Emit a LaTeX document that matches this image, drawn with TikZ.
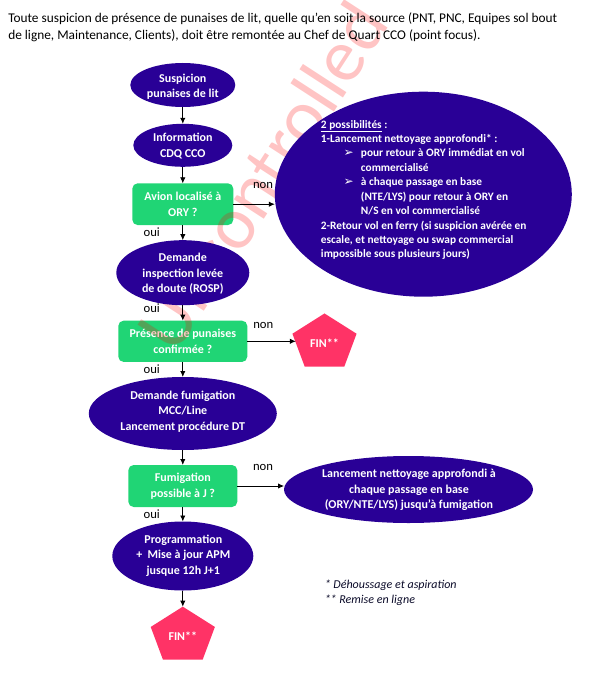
\documentclass[tikz,border=0pt]{standalone}
\usepackage{fontspec}
\setmainfont{Carlito}
\newfontfamily\dejavu{DejaVu Sans}
\usetikzlibrary{shapes.geometric,arrows.meta}
\definecolor{navyc}{RGB}{41,0,150}
\definecolor{greenc}{RGB}{32,213,117}
\definecolor{pinkc}{RGB}{255,51,102}
\definecolor{footc}{RGB}{10,10,40}
\begin{document}
\begin{tikzpicture}[x=0.75pt,y=-0.75pt,
  ell/.style={ellipse, fill=navyc, draw=none, inner sep=0pt, outer sep=0pt},
  gbox/.style={rectangle, rounded corners=4pt, fill=greenc, draw=none, inner sep=0pt, outer sep=0pt,
    text=white, font=\bfseries\fontsize{9}{11.6}\selectfont, align=center},
  ntxt/.style={text=white, font=\bfseries\fontsize{9}{11.6}\selectfont, align=center, inner sep=0pt},
  bigtxt/.style={text=white, font=\bfseries\fontsize{8.5}{10.83}\selectfont, align=left, inner sep=0pt},
  finshape/.style={regular polygon, regular polygon sides=5, minimum size=44pt, fill=pinkc, draw=none, inner sep=0pt, outer sep=0pt},
  lbl/.style={font=\fontsize{9.5}{11}\selectfont, inner sep=0pt, text=black},
  foot/.style={font=\itshape\fontsize{9}{11}\selectfont, inner sep=0pt, text=footc, anchor=west},
  hdr/.style={font=\fontsize{10}{12}\selectfont, inner sep=0pt, text=black, anchor=base west},
  arr/.style={-{Latex[length=4.5pt,width=4pt]}, line width=0.6pt, black},
  wmark/.style={text=red, opacity=0.23, font=\fontsize{56}{56}\selectfont, inner sep=0pt}
]
\path[use as bounding box] (0,0) rectangle (590,677);

% green decision boxes
\node[gbox, minimum width=75.75pt, minimum height=31.3pt] (avion) at (182.8,204.2) {Avion localisé à\\ORY ?};
\node[gbox, minimum width=96.75pt, minimum height=31pt] (pres) at (182.8,341.3) {Présence de punaises\\confirmée ?};
\node[gbox, minimum width=81.75pt, minimum height=31.5pt] (fumb) at (182.8,486) {Fumigation\\possible à J ?};

% watermark
\node[wmark, rotate=57] (wm) at (262,176) {Uncontrolled};

% header
\node[hdr] (h1) at (8,23) {Toute suspicion de présence de punaises de lit, quelle qu'en soit la source (PNT, PNC, Equipes sol bout};
\node[hdr] (h2) at (8,40) {de ligne, Maintenance, Clients), doit être remontée au Chef de Quart CCO (point focus).};

% ellipses
\node[ell, minimum width=78.75pt, minimum height=33pt] (susp) at (182.8,85) {};
\node[ntxt] (t-susp) at (182.8,86.7) {Suspicion\\punaises de lit};
\node[ell, minimum width=74.25pt, minimum height=32.25pt] (info) at (182.8,145.3) {};
\node[ntxt] (t-info) at (182.8,146.2) {Information\\CDQ CCO};
\node[ell, minimum width=99.75pt, minimum height=48.75pt] (insp) at (182.8,272.7) {};
\node[ntxt] (t-insp) at (182.8,274) {Demande\\inspection levée\\de doute (ROSP)};
\node[ell, minimum width=141pt, minimum height=54.75pt] (fumd) at (182.8,413.5) {};
\node[ntxt] (t-fumd) at (182.8,411.5) {Demande fumigation\\MCC/Line\\Lancement procédure DT};
\node[ell, minimum width=186.75pt, minimum height=50.25pt] (lanc) at (408.5,489.5) {};
\node[ntxt] (t-lanc) at (409,490) {Lancement nettoyage approfondi à\\chaque passage en base\\(ORY/NTE/LYS) jusqu’à fumigation};
\node[ell, minimum width=105.75pt, minimum height=51.75pt] (prog) at (182.8,556) {};
\node[ntxt] (t-prog) at (183.3,555.5) {Programmation\\+\ \ Mise à jour APM\\jusque 12h J+1};

% big ellipse
\node[ell, minimum width=222.75pt, minimum height=153.75pt] (big) at (423.3,194.2) {};
\node[bigtxt, anchor=north west] (t-big) at (320.7,119.8) {%
\underline{2 possibilités} :\\
1-Lancement nettoyage approfondi* :\\
\makebox[30pt][l]{\hspace*{17pt}{\dejavu\fontsize{9}{10}\selectfont ➢}}pour retour à ORY immédiat en vol\\
\hspace*{30pt}commercialisé\\
\makebox[30pt][l]{\hspace*{17pt}{\dejavu\fontsize{9}{10}\selectfont ➢}}à chaque passage en base\\
\hspace*{30pt}(NTE/LYS) pour retour à ORY en\\
\hspace*{30pt}N/S en vol commercialisé\\
2-Retour vol en ferry (si suspicion avérée en\\
escale, et nettoyage ou swap commercial\\
impossible sous plusieurs jours)};

% FIN pentagons
\begin{scope}[shift={(324.5,342.8)}, xscale=1.15]
  \node[finshape, transform shape] (fin1) at (0,0) {};
\end{scope}
\node[ntxt] (t-fin1) at (fin1.center) {FIN**};
\begin{scope}[shift={(182.8,636)}, xscale=1.15]
  \node[finshape, transform shape] (fin2) at (0,0) {};
\end{scope}
\node[ntxt] (t-fin2) at (fin2.center) {FIN**};

% connectors
\draw[arr] (susp) -- (info);
\draw[arr] (info) -- (avion);
\draw[arr] (avion) -- (insp);
\draw[arr] (insp) -- (pres);
\draw[arr] (pres) -- (fumd);
\draw[arr] (fumd) -- (fumb);
\draw[arr] (fumb) -- (prog);
\draw[arr] (prog) -- (fin2);
\draw[arr] (avion.east) -- (avion.east -| big.west);
\draw[arr] (pres.east) -- (pres.east -| fin1.west);
\draw[arr] (fumb.east) -- (fumb.east -| lanc.west);

% labels
\node[lbl] (non1) at (263,185) {non};
\node[lbl] (oui1) at (151.7,231.7) {oui};
\node[lbl] (oui2) at (151.7,308.3) {oui};
\node[lbl] (non2) at (263.3,325) {non};
\node[lbl] (oui3) at (151.7,369) {oui};
\node[lbl] (non3) at (263,467) {non};
\node[lbl] (oui4) at (151.7,514) {oui};

% footnotes
\node[foot] (f1) at (324.5,585.5) {* Déhoussage et aspiration};
\node[foot] (f2) at (324.5,600.7) {** Remise en ligne};
\end{tikzpicture}
\end{document}
